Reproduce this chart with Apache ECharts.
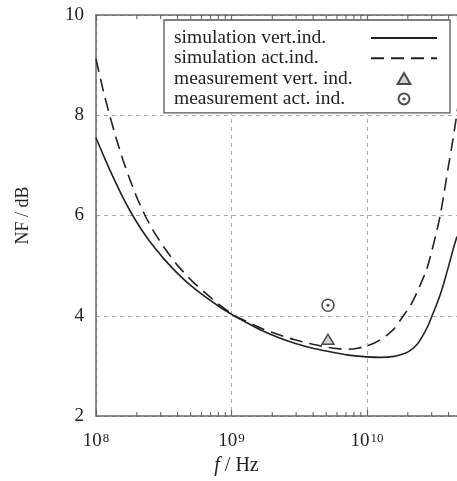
<!DOCTYPE html>
<html>
<head>
<meta charset="utf-8">
<script src="https://cdn.jsdelivr.net/npm/echarts@6/dist/echarts.min.js"></script>
<style>
  html, body { margin: 0; padding: 0; background: #fff; }
  #chart { width: 457px; height: 481px; }
</style>
</head>
<body>
<div id="chart"></div>
<script>
  // 주파수 (log10 Hz) / 잡음지수 (dB)
  var vertFreqLog = [8.00, 8.05, 8.10, 8.15, 8.20, 8.25, 8.30, 8.35, 8.40, 8.45, 8.50, 8.55, 8.60, 8.65, 8.70, 8.80, 8.90, 9.00,
    9.10, 9.22, 9.35, 9.466, 9.60, 9.71, 9.85, 10.00, 10.10, 10.20, 10.27, 10.32, 10.37, 10.415, 10.45, 10.48, 10.51, 10.54, 10.57, 10.60, 10.635, 10.664];
  var vertNF = [7.55, 7.23, 6.92, 6.63, 6.35, 6.10, 5.87, 5.66, 5.47, 5.30, 5.14, 4.99, 4.85, 4.72, 4.60, 4.39, 4.20, 4.03,
    3.88, 3.71, 3.56, 3.45, 3.35, 3.29, 3.22, 3.18, 3.17, 3.19, 3.24, 3.31, 3.43, 3.62, 3.80, 4.00, 4.20, 4.42, 4.68, 4.97, 5.32, 5.58];

  var actFreqLog = [8.00, 8.05, 8.10, 8.15, 8.20, 8.25, 8.30, 8.36, 8.42, 8.50, 8.60, 8.706, 8.80, 8.90, 9.013,
    9.10, 9.22, 9.35, 9.466, 9.60, 9.71, 9.80, 9.86, 9.93, 10.00, 10.05, 10.096, 10.15, 10.20, 10.268, 10.32, 10.366, 10.40, 10.44, 10.477, 10.51, 10.54, 10.57, 10.60, 10.63, 10.657, 10.67];
  var actNF = [9.12, 8.53, 8.01, 7.53, 7.10, 6.72, 6.37, 6.01, 5.71, 5.37, 5.01, 4.70, 4.47, 4.24, 4.02,
    3.90, 3.75, 3.62, 3.52, 3.43, 3.37, 3.34, 3.33, 3.35, 3.40, 3.45, 3.52, 3.62, 3.74, 4.00, 4.20, 4.45, 4.66, 4.92, 5.28, 5.64, 6.00, 6.47, 6.97, 7.45, 7.92, 8.15];

  var measFreq = [5.15e9];
  var measVert = [3.53];
  var measAct = [4.21];

  var xMin = 8, xMax = 10.664;
  // 보조 눈금 (2..9 x 10^n)
  var minorTicks = [];
  [8, 9, 10].forEach(function (d) {
    for (var k = 2; k <= 9; k++) {
      var v = d + Math.log10(k);
      if (v < xMax) minorTicks.push(v);
    }
  });

  var serif = '"Liberation Serif", "DejaVu Serif", serif';
  var ink = '#222';
  var axisGray = '#666';

  var toPairs = function (xs, ys) {
    return xs.map(function (x, i) { return [x, ys[i]]; });
  };

  var ringPath = 'path://M50,4A46,46,0,1,1,49.9,4Z M50,44A6,6,0,1,1,49.9,44Z';
  var triPath = 'path://M50,0L100,86L0,86Z';

  var myChart = echarts.init(document.getElementById('chart'), null, { renderer: 'canvas' });

  var option = {
    animation: false,
    backgroundColor: '#fff',
    grid: { left: 96, right: 0, top: 15, bottom: 65 },
    legend: {
      orient: 'vertical',
      left: 164,
      top: 20,
      align: 'right',
      padding: [8, 12, 4, 10],
      itemGap: 0.3,
      itemWidth: 66,
      itemHeight: 11,
      symbolKeepAspect: true,
      backgroundColor: '#fff',
      borderColor: '#555',
      borderWidth: 1.3,
      data: [
        { name: 'simulation vert.ind.', itemStyle: { opacity: 0 } },
        { name: 'simulation act.ind.', itemStyle: { opacity: 0 } },
        { name: 'measurement vert. ind.' },
        { name: 'measurement act. ind.' }
      ],
      formatter: function (name) { return '{t|' + name + '}'; },
      textStyle: {
        color: ink,
        rich: {
          t: { width: 192, align: 'left', fontFamily: serif, fontSize: 19.5, color: ink, lineHeight: 20 }
        }
      }
    },
    xAxis: [
      {
        type: 'value',
        min: xMin,
        max: xMax,
        interval: 1,
        position: 'bottom',
        axisLine: { lineStyle: { color: axisGray, width: 1.5 } },
        axisTick: { inside: true, length: 6, lineStyle: { color: axisGray, width: 1.2 } },
        splitLine: { show: true, lineStyle: { color: '#aaa', type: [4, 4], width: 1 } },
        axisLabel: {
          margin: 16,
          showMaxLabel: false,
          formatter: function (v) { return '{b|10}{s|' + Math.round(v) + '}'; },
          rich: {
            b: { fontFamily: serif, fontSize: 19, color: ink },
            s: { fontFamily: serif, fontSize: 13, color: ink, verticalAlign: 'top', padding: [0, 0, 0, 1] }
          }
        },
        name: '{i|f} / Hz',
        nameLocation: 'middle',
        nameGap: 38,
        nameTextStyle: {
          padding: [0, 80, 0, 0],
          rich: {
            i: { fontFamily: serif, fontSize: 20, fontStyle: 'italic', color: ink },
            '': { fontFamily: serif, fontSize: 20, color: ink }
          },
          fontFamily: serif, fontSize: 20, color: ink
        }
      },
      {
        type: 'value',
        min: xMin,
        max: xMax,
        interval: 1,
        position: 'top',
        axisLine: { lineStyle: { color: axisGray, width: 1.5 } },
        axisTick: { inside: true, length: 6, lineStyle: { color: axisGray, width: 1.2 } },
        axisLabel: { show: false },
        splitLine: { show: false }
      }
    ],
    yAxis: {
      type: 'value',
      min: 2,
      max: 10,
      interval: 2,
      axisLine: { show: true, lineStyle: { color: axisGray, width: 1.5 } },
      axisTick: { show: false },
      splitLine: { show: true, lineStyle: { color: '#aaa', type: [4, 4], width: 1 } },
      axisLabel: { margin: 12, fontFamily: serif, fontSize: 19, color: ink },
      name: 'NF / dB',
      nameLocation: 'middle',
      nameGap: 64,
      nameTextStyle: { fontFamily: serif, fontSize: 18, color: ink }
    },
    series: [
      {
        // 보조 눈금 (위/아래)
        type: 'custom',
        silent: true,
        clip: false,
        data: minorTicks.map(function (v) { return [v]; }),
        renderItem: function (params, api) {
          var b = api.coord([api.value(0), 2]);
          var t = api.coord([api.value(0), 10]);
          var st = { stroke: axisGray, lineWidth: 1.1 };
          return {
            type: 'group',
            children: [
              { type: 'line', shape: { x1: b[0], y1: b[1], x2: b[0], y2: b[1] - 4 }, style: st },
              { type: 'line', shape: { x1: t[0], y1: t[1], x2: t[0], y2: t[1] + 4 }, style: st }
            ]
          };
        },
        z: 1
      },
      {
        name: 'simulation vert.ind.',
        type: 'line',
        data: toPairs(vertFreqLog, vertNF),
        symbol: 'none',
        smooth: 0.2,
        clip: true,
        lineStyle: { color: ink, width: 1.6 },
        itemStyle: { color: ink },
        z: 3
      },
      {
        name: 'simulation act.ind.',
        type: 'line',
        data: toPairs(actFreqLog, actNF),
        symbol: 'none',
        smooth: 0.2,
        clip: true,
        lineStyle: { color: ink, width: 1.6, type: [13, 7] },
        itemStyle: { color: ink },
        z: 3
      },
      {
        name: 'measurement vert. ind.',
        type: 'scatter',
        data: toPairs(measFreq.map(Math.log10), measVert),
        symbol: triPath,
        symbolSize: [12, 10],
        itemStyle: { color: '#c8c8c8', borderColor: ink, borderWidth: 1.5 },
        z: 4
      },
      {
        name: 'measurement act. ind.',
        type: 'scatter',
        data: toPairs(measFreq.map(Math.log10), measAct),
        symbol: ringPath,
        symbolSize: 12,
        itemStyle: { color: '#fff', borderColor: ink, borderWidth: 1.5 },
        z: 4
      }
    ]
  };

  if (option && typeof option === 'object') {
    myChart.setOption(option);
  }
</script>
</body>
</html>
